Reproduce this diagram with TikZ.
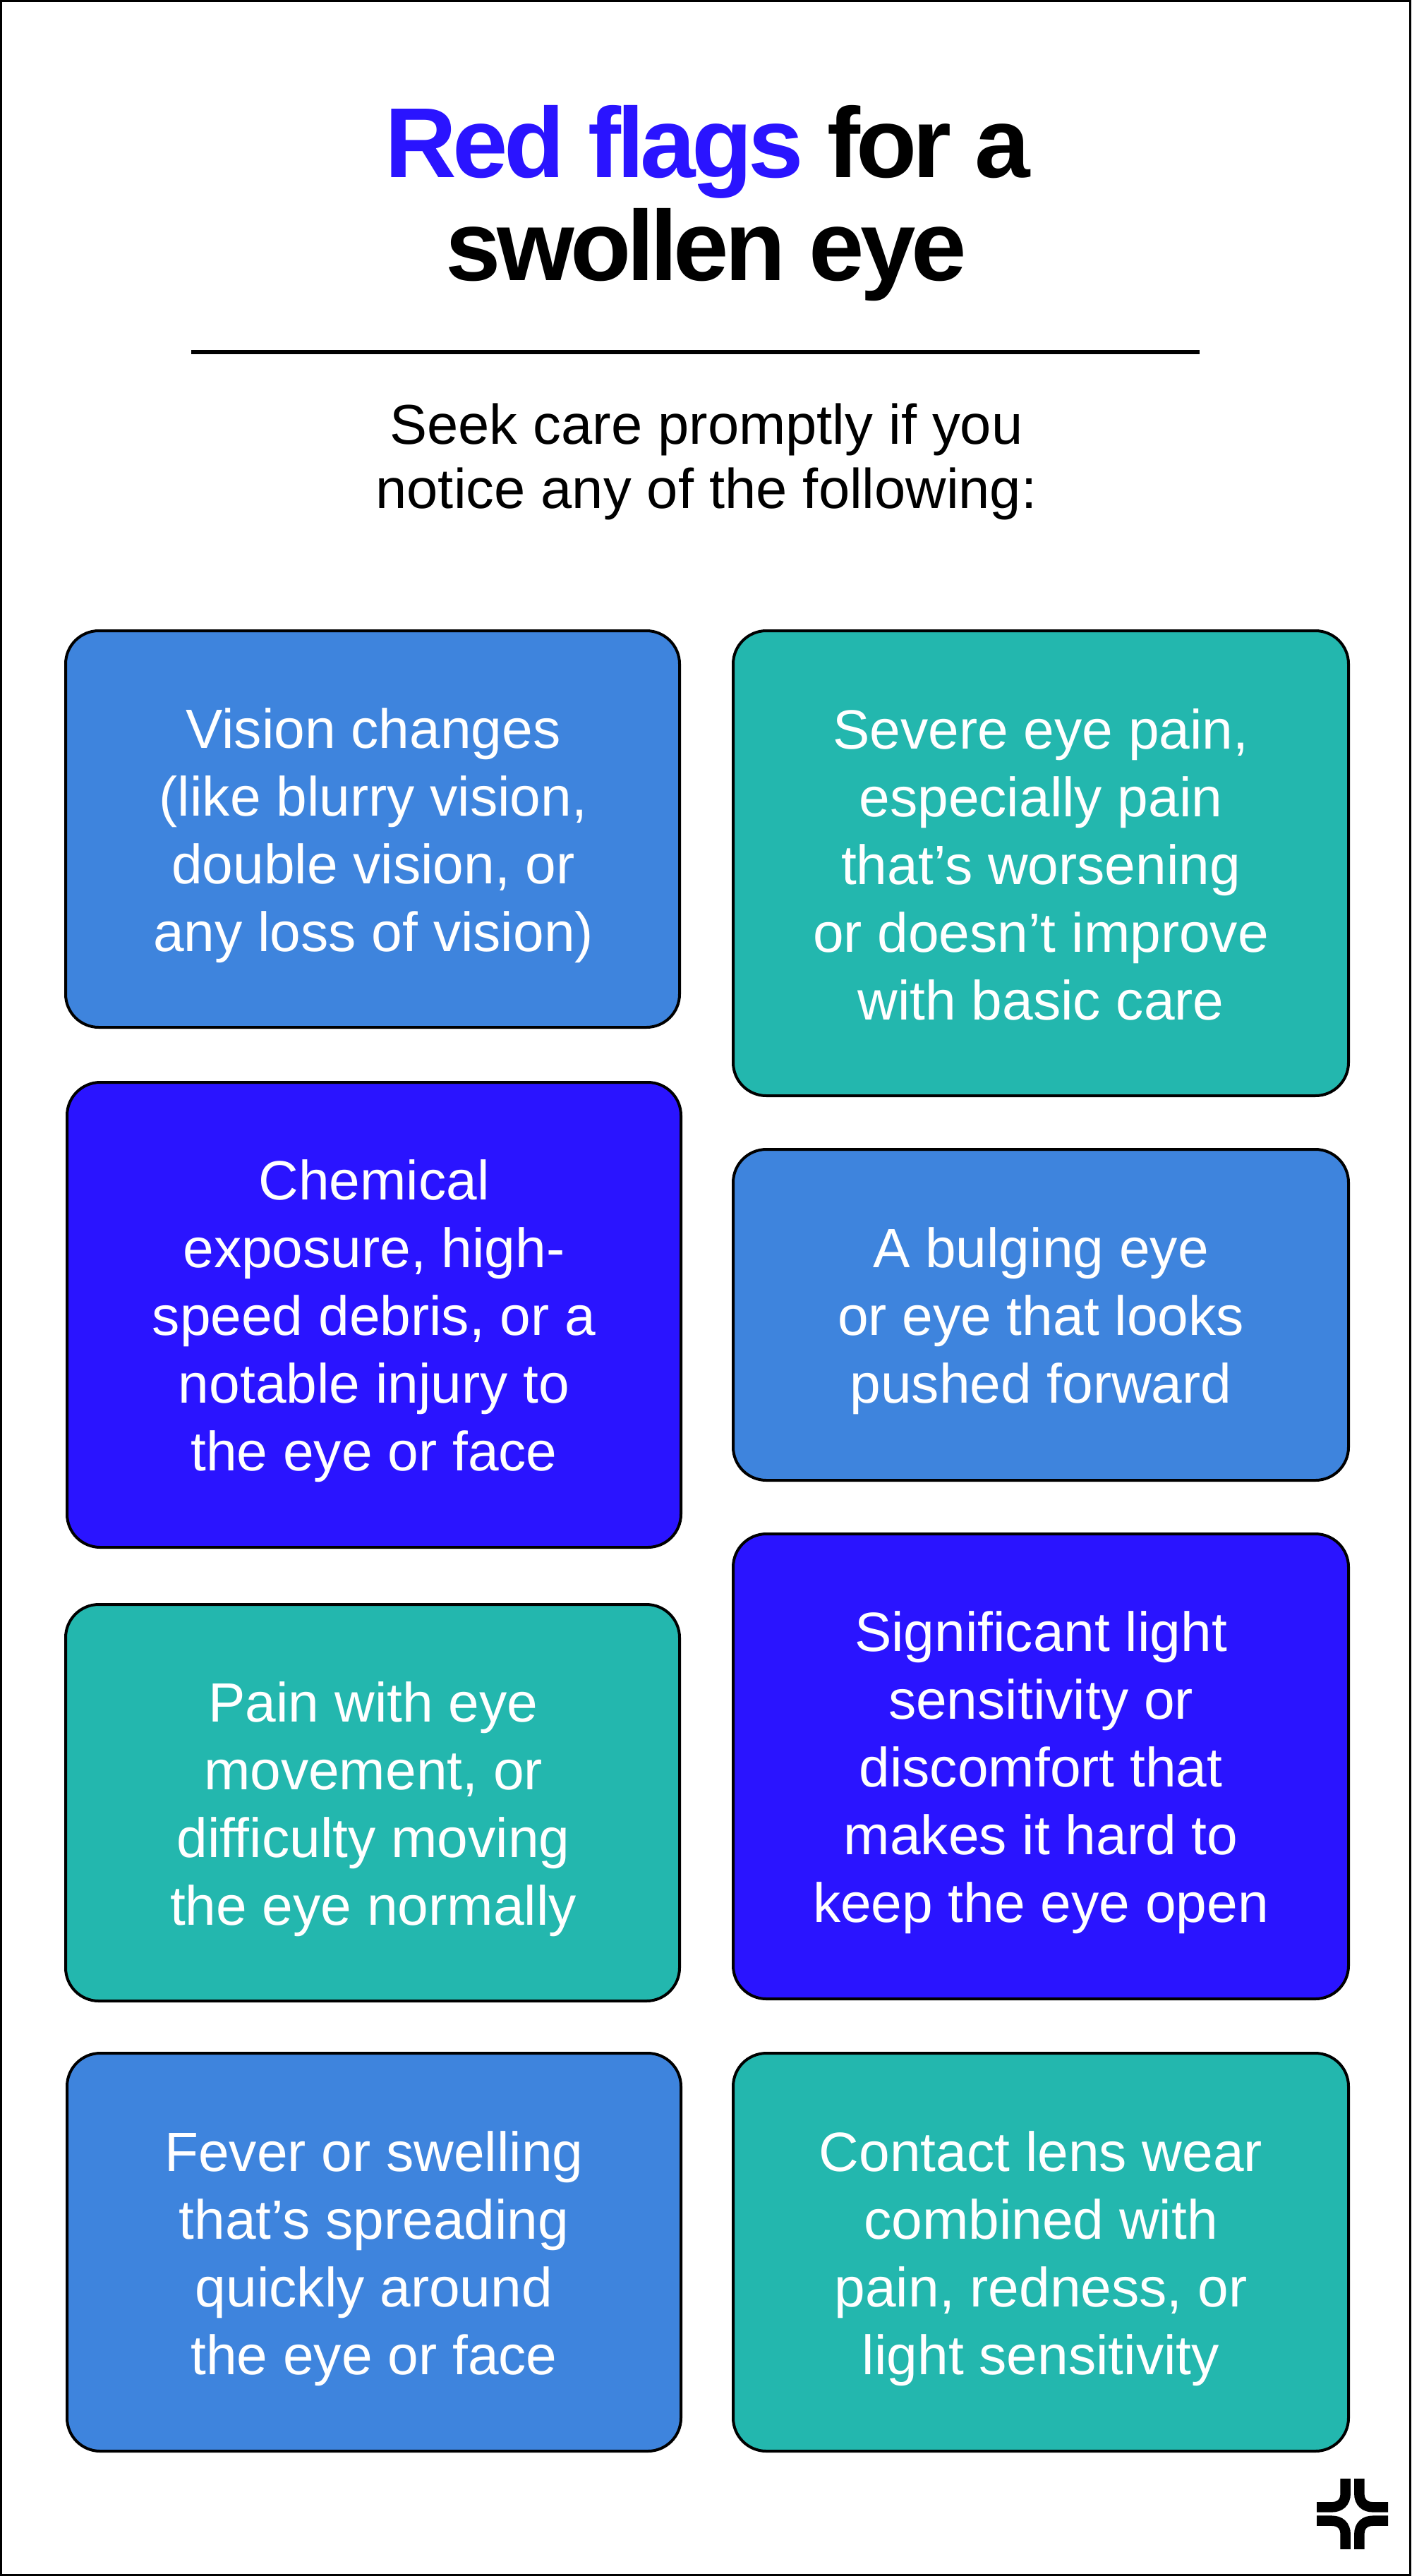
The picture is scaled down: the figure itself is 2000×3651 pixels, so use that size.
\documentclass[tikz,border=0pt]{standalone}
\usepackage{fontspec}
\setmainfont{Liberation Sans}
\newfontfamily\titlefont[LetterSpace=-4.2]{Liberation Sans}
\definecolor{cblue}{HTML}{3E84DD}
\definecolor{cindigo}{HTML}{2A14FF}
\definecolor{cteal}{HTML}{23B7AE}
\tikzset{
  card/.style={draw=black,line width=4pt,rounded corners=47pt,inner sep=0pt,minimum width=870pt},
  cardwide/.style={card,minimum width=872pt},
  cardtext/.style={inner sep=0pt,text=white,align=center,yshift=-9pt,
    font=\fontsize{78.5}{96}\selectfont},
  titletext/.style={anchor=base,inner sep=0pt,font=\titlefont\bfseries\fontsize{141}{146}\selectfont},
  subtext/.style={anchor=base,inner sep=0pt,font=\fontsize{79.5}{91}\selectfont},
  logostroke/.style={line width=14.5pt,line cap=butt}
}
\begin{document}
\begin{tikzpicture}[x=1pt,y=-1pt]
\useasboundingbox (0,0) rectangle (2000,3651);
\fill[white] (0,0) rectangle (2000,3651);
\draw[black,line width=3pt] (1.5,1.5) rectangle (1998.5,3649.5);
% heading
\node[titletext] (t1) at (1003,251) {\textcolor{cindigo}{Red flags} for a};
\node[titletext] (t2) at (1001,397) {swollen eye};
\coordinate (ruleL) at (271,499);
\coordinate (ruleR) at (1700,499);
\draw[black,line width=6pt] (ruleL) -- (ruleR);
\node[subtext] (s1) at (1001,629) {Seek care promptly if you};
\node[subtext] (s2) at (1001,720) {notice any of the following:};
% left column
\node[card,fill=cblue,minimum height=562pt] (l1) at (528,1175) {};
\node[cardtext,xshift=1pt] (l1t) at (l1.center) {Vision changes\\(like blurry vision,\\double vision, or\\any loss of vision)};
\node[card,fill=cindigo,minimum height=659pt] (l2) at (530,1863.5) {};
\node[cardtext] (l2t) at (l2.center) {Chemical\\exposure, high-\\speed debris, or a\\notable injury to\\the eye or face};
\node[card,fill=cteal,minimum height=562pt] (l3) at (528,2555) {};
\node[cardtext,xshift=1pt] (l3t) at (l3.center) {Pain with eye\\movement, or\\difficulty moving\\the eye normally};
\node[card,fill=cblue,minimum height=564pt] (l4) at (530,3192) {};
\node[cardtext] (l4t) at (l4.center) {Fever or swelling\\that’s spreading\\quickly around\\the eye or face};
% right column
\node[cardwide,fill=cteal,minimum height=659pt] (r1) at (1475,1223.5) {};
\node[cardtext,yshift=7pt] (r1t) at (r1.center) {Severe eye pain,\\especially pain\\that’s worsening\\or doesn’t improve\\with basic care};
\node[cardwide,fill=cblue,minimum height=469pt] (r2) at (1475,1863.5) {};
\node[cardtext] (r2t) at (r2.center) {A bulging eye\\or eye that looks\\pushed forward};
\node[cardwide,fill=cindigo,minimum height=659pt] (r3) at (1475,2503.5) {};
\node[cardtext] (r3t) at (r3.center) {Significant light\\sensitivity or\\discomfort that\\makes it hard to\\keep the eye open};
\node[cardwide,fill=cteal,minimum height=564pt] (r4) at (1475,3192) {};
\node[cardtext] (r4t) at (r4.center) {Contact lens wear\\combined with\\pain, redness, or\\light sensitivity};
% logo
\begin{scope}[shift={(1916.5,3563)}]
\foreach \sx/\sy in {1/1,-1/1,1/-1,-1/-1}{
  \draw[logostroke,black,xscale=\sx,yscale=\sy]
    (9.8,-50) -- (9.8,-29) .. controls (9.8,-16) and (18,-9.7) .. (29,-9.7) -- (50.5,-9.7);
}
\end{scope}
\end{tikzpicture}
\end{document}
